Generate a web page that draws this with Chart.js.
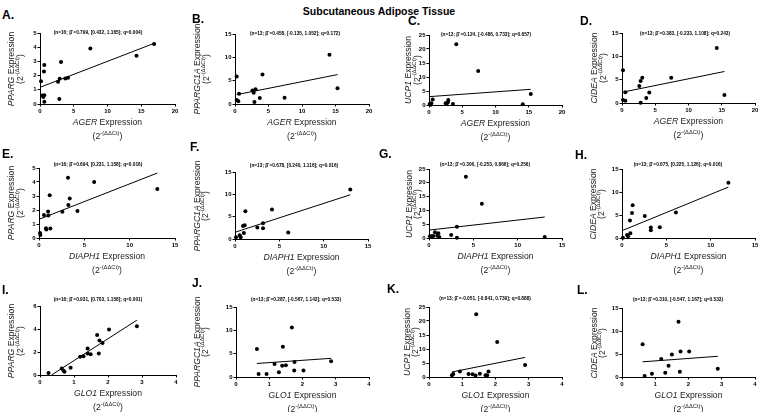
<!DOCTYPE html>
<html>
<head>
<meta charset="utf-8">
<script src="https://cdn.jsdelivr.net/npm/chart.js@4.4.0/dist/chart.umd.min.js"></script>
<style>
body { margin: 0; width: 759px; height: 412px; background: #fff; position: relative; overflow: hidden; font-family: "Liberation Sans", Arial, sans-serif; }
canvas { position: absolute; }
.t { position: absolute; white-space: nowrap; line-height: 1; color: #222; }
.title { font-weight: bold; font-size: 10.5px; color: #000; }
.letter { font-weight: bold; font-size: 12px; color: #000; }
.stat { font-weight: bold; font-size: 9.5px; color: #000; }
.lab { font-size: 8.6px; }
.lab sup { font-size: 5.8px; vertical-align: 4px; line-height: 0; }
</style>
</head>
<body>
<div class="t title" style="left:379px; top:11px; transform: translate(-50%,-50%);">Subcutaneous Adipose Tissue</div>
<script>
// values
const aX = [0.15, 0.35, 0.49, 0.64, 0.64, 0.59, 0.64, 2.67, 2.86, 2.91, 3.11, 3.75, 4.15, 7.46, 14.3, 16.9];
const aY = [1.6, 0.59, 0.49, 0.61, 0.16, 2.28, 2.75, 1.57, 0.35, 1.78, 2.96, 1.8, 1.85, 3.9, 3.4, 4.23];
const aFitX = [0.15, 16.9], aFitY = [1.2, 4.27];

const bX = [0.25, 0.25, 0.49, 0.6, 2.6, 2.8, 2.9, 3.06, 3.7, 4.1, 7.4, 14.1, 15.3];
const bY = [5.9, 0.86, 0.57, 2.2, 2.9, 2.4, 0.43, 3.16, 1.3, 6.3, 1.36, 10.55, 3.37];
const bFitX = [0.25, 15.3], bFitY = [2.0, 6.3];

const cX = [0.1, 0.25, 0.35, 0.55, 2.5, 2.7, 2.85, 2.9, 3.6, 4.1, 7.4, 14.1, 15.3];
const cY = [0.35, 0.05, 0.6, 2.0, 0.6, 0.6, 1.0, 1.8, 0.35, 21.7, 12.1, 0.24, 3.9];
const cFitX = [0.1, 15.3], cFitY = [3.0, 5.6];

const dX = [0.15, 0.15, 0.5, 0.5, 2.6, 2.8, 3.05, 2.8, 3.65, 4.1, 7.4, 14.25, 15.4];
const dY = [7.0, 0.65, 0.5, 2.3, 3.66, 4.74, 5.4, 0.07, 1.08, 2.23, 5.4, 11.8, 1.72];
const dFitX = [0.25, 15.4], dFitY = [2.37, 6.75];

const eX = [0.11, 0.15, 0.55, 0.77, 0.81, 1.0, 1.03, 1.18, 1.25, 2.58, 3.2, 3.24, 3.39, 4.24, 6.08, 13.05];
const eY = [0.36, 0.21, 1.64, 0.69, 0.6, 1.9, 1.6, 3.05, 0.67, 1.88, 4.3, 2.36, 2.83, 1.93, 4.0, 3.5];
const eFitX = [0.1, 13.05], eFitY = [1.36, 4.64];

const fX = [0.11, 0.53, 0.64, 0.9, 1.0, 1.09, 1.17, 2.52, 3.16, 3.16, 4.17, 6.0, 13.0];
const fY = [0.38, 0.83, 0.38, 2.9, 1.36, 3.1, 6.2, 2.56, 3.54, 2.4, 6.6, 1.43, 11.1];
const fFitX = [0.11, 13.0], fFitY = [1.58, 9.9];

const gX = [0.1, 0.3, 0.5, 0.67, 0.94, 1.05, 1.16, 2.5, 3.15, 3.15, 4.16, 5.96, 13.05];
const gY = [0.6, 0.6, 0.7, 2.05, 0.85, 1.7, 0.36, 1.1, 4.1, 0.12, 22.2, 12.4, 0.36];
const gFitX = [0.1, 13.05], gFitY = [2.9, 7.6];

const hX = [0.1, 0.57, 0.68, 0.9, 0.94, 1.13, 1.2, 2.57, 3.25, 3.25, 4.26, 6.08, 12.0];
const hY = [0.07, 0.65, 0.36, 3.8, 1.02, 5.46, 7.14, 4.8, 2.26, 1.67, 2.33, 5.53, 12.0];
const hFitX = [0.1, 12.0], hFitY = [1.67, 11.07];

const iX = [0.25, 0.64, 0.69, 0.72, 0.9, 1.18, 1.28, 1.4, 1.4, 1.49, 1.68, 1.73, 1.75, 1.84, 2.03, 2.85];
const iY = [0.17, 0.57, 0.37, 0.29, 0.63, 1.58, 1.64, 2.3, 1.87, 1.8, 3.47, 1.87, 3.0, 2.79, 3.96, 4.25];
const iFitX = [0.34, 2.85], iFitY = [0, 4.77];

const jX = [0.63, 0.68, 0.92, 1.16, 1.29, 1.39, 1.41, 1.5, 1.68, 1.75, 1.76, 2.03, 2.86];
const jY = [6.0, 0.65, 0.65, 2.8, 1.0, 2.4, 6.5, 2.5, 10.6, 1.4, 3.2, 1.4, 3.4];
const jFitX = [0.63, 2.86], jFitY = [2.9, 4.0];

const kX = [0.69, 0.73, 0.93, 1.19, 1.31, 1.4, 1.42, 1.53, 1.7, 1.75, 1.79, 2.05, 2.89];
const kY = [0.6, 1.1, 2.0, 1.1, 1.0, 0.5, 22.4, 1.2, 0.6, 0.6, 2.0, 12.5, 4.3];
const kFitX = [0.69, 2.89], kFitY = [1.8, 7.0];

const lX = [0.62, 0.68, 0.9, 1.18, 1.3, 1.4, 1.5, 1.7, 1.74, 1.76, 2.02, 2.88];
const lY = [7.1, 0.2, 0.7, 3.9, 0.9, 2.45, 4.9, 12.0, 1.15, 5.55, 5.55, 1.8];
const lFitX = [0.62, 2.88], lFitY = [3.3, 4.5];

const stats = [
    "(n=16; β̂ =0.799, [0.432, 1.165]; q=0.004)",
    "(n=13; β̂ =0.458, [-0.135, 1.052]; q=0.172)",
    "(n=13; β̂ =0.124, [-0.486, 0.733]; q=0.657)",
    "(n=13; β̂ =0.383, [-0.233, 1.108]; q=0.243)",
    "(n=16; β̂ =0.694, [0.231, 1.158]; q=0.016)",
    "(n=13; β̂ =0.678, [0.240, 1.116]; q=0.016)",
    "(n=13; β̂ =0.306, [-0.253, 0.866]; q=0.256)",
    "(n=13; β̂ =0.675, [0.225, 1.126]; q=0.016)",
    "(n=16; β̂ =0.931, [0.703, 1.158]; q=0.001)",
    "(n=13; β̂ =0.287, [-0.567, 1.142]; q=0.533)",
    "(n=13; β̂ =-0.051, [-0.841, 0.739]; q=0.888)",
    "(n=13; β̂ =0.310, [-0.547, 1.167]; q=0.533)"
];

// layout: plot box [left, top, right, bottom], letter pos, stat centre, y-label line centres
const panels = [
    { letter: "A", gene: "PPARG", pred: "AGER", x: aX, y: aY, fx: aFitX, fy: aFitY, xmax: 20, xstep: 5, ymax: 5, ystep: 1,
      box: [40, 33, 175, 104], lp: [2, 9], sp: [98, 32], yl: [11, 20] },
    { letter: "B", gene: "PPARGC1A", pred: "AGER", x: bX, y: bY, fx: bFitX, fy: bFitY, xmax: 20, xstep: 5, ymax: 15, ystep: 5,
      box: [235, 34, 369, 104], lp: [192, 12.5], sp: [295, 32.5], yl: [197, 206] },
    { letter: "C", gene: "UCP1", pred: "AGER", x: cX, y: cY, fx: cFitX, fy: cFitY, xmax: 20, xstep: 5, ymax: 25, ystep: 5,
      box: [429, 35, 562, 105], lp: [408, 15], sp: [486, 33.5], yl: [408, 417] },
    { letter: "D", gene: "CIDEA", pred: "AGER", x: dX, y: dY, fx: dFitX, fy: dFitY, xmax: 20, xstep: 5, ymax: 15, ystep: 5,
      box: [622, 33, 755, 103], lp: [580, 15], sp: [685, 32.5], yl: [594, 603] },
    { letter: "E", gene: "PPARG", pred: "DIAPH1", x: eX, y: eY, fx: eFitX, fy: eFitY, xmax: 15, xstep: 5, ymax: 5, ystep: 1,
      box: [39, 168, 175, 238], lp: [2, 147.5], sp: [98, 163.5], yl: [11, 20] },
    { letter: "F", gene: "PPARGC1A", pred: "DIAPH1", x: fX, y: fY, fx: fFitX, fy: fFitY, xmax: 15, xstep: 5, ymax: 15, ystep: 5,
      box: [235, 172, 368, 239], lp: [190, 141], sp: [294, 164.5], yl: [197, 205] },
    { letter: "G", gene: "UCP1", pred: "DIAPH1", x: gX, y: gY, fx: gFitX, fy: gFitY, xmax: 15, xstep: 5, ymax: 25, ystep: 5,
      box: [429, 169, 562, 238], lp: [379, 147.5], sp: [485, 163.5], yl: [409, 417] },
    { letter: "H", gene: "CIDEA", pred: "DIAPH1", x: hX, y: hY, fx: hFitX, fy: hFitY, xmax: 15, xstep: 5, ymax: 15, ystep: 5,
      box: [622, 169, 755, 238], lp: [575, 148.5], sp: [678, 163.5], yl: [593, 601] },
    { letter: "I", gene: "PPARG", pred: "GLO1", x: iX, y: iY, fx: iFitX, fy: iFitY, xmax: 4, xstep: 1, ymax: 6, ystep: 2,
      box: [40, 306, 176, 375], lp: [2, 283.5], sp: [98, 298.5], yl: [11, 20] },
    { letter: "J", gene: "PPARGC1A", pred: "GLO1", x: jX, y: jY, fx: jFitX, fy: jFitY, xmax: 4, xstep: 1, ymax: 15, ystep: 5,
      box: [236, 307, 369, 377], lp: [192, 277], sp: [296, 298.5], yl: [197, 205] },
    { letter: "K", gene: "UCP1", pred: "GLO1", x: kX, y: kY, fx: kFitX, fy: kFitY, xmax: 4, xstep: 1, ymax: 25, ystep: 5,
      box: [429, 307, 562, 377], lp: [387, 283], sp: [485, 298], yl: [407, 415] },
    { letter: "L", gene: "CIDEA", pred: "GLO1", x: lX, y: lY, fx: lFitX, fy: lFitY, xmax: 4, xstep: 1, ymax: 15, ystep: 5,
      box: [622, 308, 755, 377], lp: [577, 284], sp: [678, 298.5], yl: [594, 602] }
];

const tickFont = { family: "'Liberation Sans', Arial, sans-serif", size: 6, weight: "bold" };
const unit = "(2<sup>-(ΔΔCt)</sup>)";

function addText(cls, html, left, top, transform) {
    const d = document.createElement("div");
    d.className = "t " + cls;
    d.innerHTML = html;
    d.style.left = left + "px";
    d.style.top = top + "px";
    if (transform) d.style.transform = transform;
    document.body.appendChild(d);
}

function axis(max, step, isX) {
    return {
        type: "linear",
        min: 0,
        max: max,
        ticks: { stepSize: step, font: tickFont, color: "#000", padding: 1, autoSkip: false, maxRotation: 0 },
        grid: { drawOnChartArea: false, drawTicks: true, tickLength: 2.5, color: "#000", lineWidth: 1 },
        border: { color: "#000", width: 1 },
        afterFit: isX ? (s) => { s.height = 13; } : (s) => { s.width = 22; }
    };
}

panels.forEach((p, idx) => {
    const [l, t, r, b] = p.box;
    const canvas = document.createElement("canvas");
    canvas.width = (r - l) + 22 + 5;
    canvas.height = (b - t) + 13 + 6;
    canvas.style.left = (l - 22) + "px";
    canvas.style.top = (t - 6) + "px";
    document.body.appendChild(canvas);

    const pts = p.x.map((v, i) => ({ x: v, y: p.y[i] }));
    const fit = p.fx.map((v, i) => ({ x: v, y: p.fy[i] }));

    new Chart(canvas, {
        type: "scatter",
        data: {
            datasets: [
                { data: fit, showLine: true, borderColor: "#000", borderWidth: 1, pointRadius: 0, clip: false },
                { data: pts, pointRadius: 2, backgroundColor: "#000", borderWidth: 0, clip: false }
            ]
        },
        options: {
            responsive: false,
            animation: false,
            devicePixelRatio: 1,
            layout: { padding: { left: 0, top: 6, right: 5, bottom: 0 } },
            plugins: { legend: { display: false }, tooltip: { enabled: false } },
            scales: { x: axis(p.xmax, p.xstep, true), y: axis(p.ymax, p.ystep, false) }
        }
    });

    const cx = (l + r) / 2, cy = (t + b) / 2;
    addText("letter", p.letter + ".", p.lp[0], p.lp[1]);
    addText("stat", stats[idx], p.sp[0], p.sp[1], "translate(-50%,-50%) scale(0.5)");
    addText("lab", "<i>" + p.pred + "</i> Expression", cx, b + 18, "translate(-50%,-50%)");
    addText("lab", unit, cx, b + 32, "translate(-50%,-50%)");
    addText("lab", "<i>" + p.gene + "</i> Expression", p.yl[0], cy, "translate(-50%,-50%) rotate(-90deg)");
    addText("lab", unit, p.yl[1], cy, "translate(-50%,-50%) rotate(-90deg)");
});
</script>
</body>
</html>
